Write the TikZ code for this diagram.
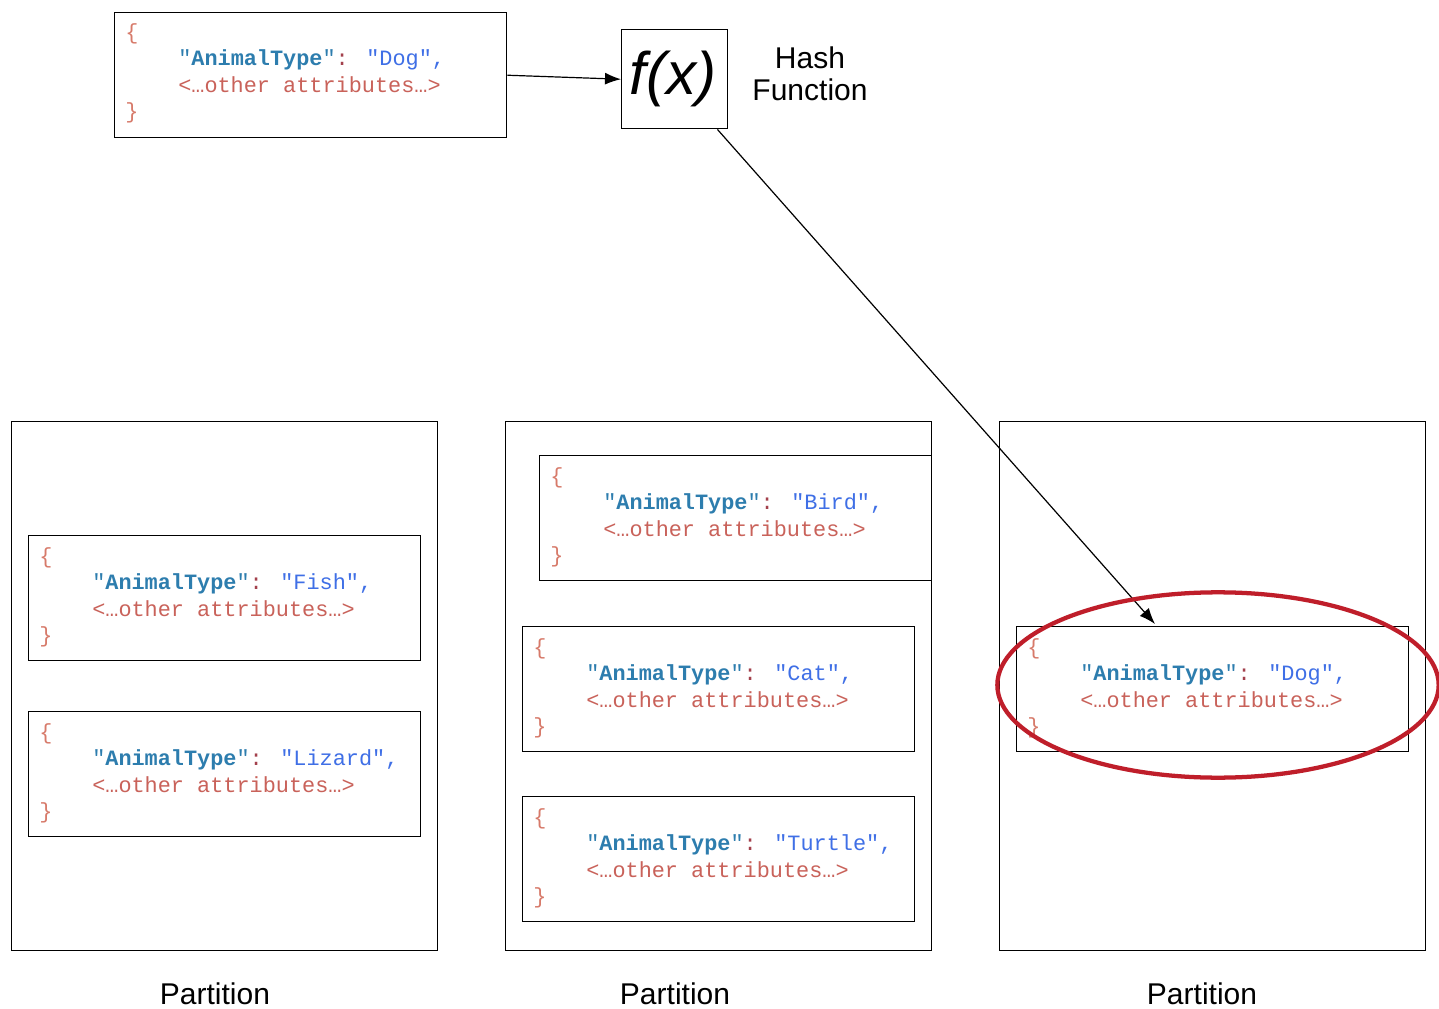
\documentclass[tikz,border=0pt]{standalone}
\usepackage{fontspec}
\setmainfont{Liberation Sans}
\newfontfamily\codefont{Liberation Mono}
\usetikzlibrary{arrows.meta,calc,shapes.geometric}
\definecolor{keyc}{HTML}{2D7DAE}
\definecolor{colc}{HTML}{A3404C}
\definecolor{valc}{HTML}{3F6FE6}
\definecolor{othc}{HTML}{C9625A}
\definecolor{brc}{HTML}{D77A6A}
\definecolor{ringc}{HTML}{BF1E2A}
\tikzset{
  box/.style={draw, line width=1.1pt, inner sep=0pt, anchor=north west},
  code/.style={font=\codefont\fontsize{16.4}{19}\selectfont, inner sep=0pt, anchor=base west},
  lbl/.style={font=\fontsize{22.5}{26}\selectfont, inner sep=0pt},
  arr/.style={line width=0.9pt, -{Latex[length=12pt,width=9pt]}},
}
\newcommand\JsonBox[4]{%
  \node[box, minimum width=294pt, minimum height=93.75pt] (#1) at (#2,#3) {};
  \node[code, text=brc] (#1-open) at ($(#1.north west)+(11,28)$) {\{};
  \node[code] (#1-key) at ($(#1.north west)+(64,54)$) {\textcolor{keyc}{"\textbf{AnimalType}"}\textcolor{colc}{:} \textcolor{valc}{"#4",}};
  \node[code, text=othc] (#1-oth) at ($(#1.north west)+(64,81)$) {<\ldots other attributes\ldots>};
  \node[code, text=brc] (#1-close) at ($(#1.north west)+(11,107)$) {\}};
}
\begin{document}
\begin{tikzpicture}[x=0.75pt,y=-0.75pt]
\useasboundingbox (0,0) rectangle (1439,1009);
\clip (0,0) rectangle (1439,1009);
\fill[white] (0,0) rectangle (1439,1009);
% partitions
\node[box, minimum width=319.5pt, minimum height=396.75pt] (p1) at (11,421) {};
\node[box, minimum width=319.5pt, minimum height=396.75pt] (p2) at (505,421) {};
\node[box, minimum width=319.5pt, minimum height=396.75pt] (p3) at (999,421) {};
\node[lbl] (p1l) at (215,994) {Partition};
\node[lbl] (p2l) at (675,994) {Partition};
\node[lbl] (p3l) at (1202,994) {Partition};
% top
\JsonBox{top}{114}{12}{Dog}
\node[box, minimum width=79.5pt, minimum height=74.25pt] (fx) at (621,29) {};
\node[inner sep=0pt, font=\fontsize{45}{50}\selectfont\itshape] (fxt) at ($(fx.center)+(-2,0)$) {f(x)};
\node[lbl, align=center] (hash) at (810,74) {Hash\\[-2pt]Function};
% records
\JsonBox{fish}{28}{535}{Fish}
\JsonBox{lizard}{28}{711}{Lizard}
\JsonBox{bird}{539}{455}{Bird}
\JsonBox{cat}{522}{626}{Cat}
\JsonBox{turtle}{522}{796}{Turtle}
\JsonBox{dog}{1016}{626}{Dog}
% arrows
\draw[arr] (top.east) -- (fx.west);
\coordinate (fxout) at ($(fx.south east)+(-11,0)$);
\coordinate (dogin) at ($(dog.north west)+(139,-2)$);
\draw[arr] (fxout) -- (dogin);
% ring
\node[draw=ringc, line width=3.2pt, ellipse, minimum width=331pt, minimum height=139pt, inner sep=0pt] (ring) at (1218,685) {};
\end{tikzpicture}
\end{document}
